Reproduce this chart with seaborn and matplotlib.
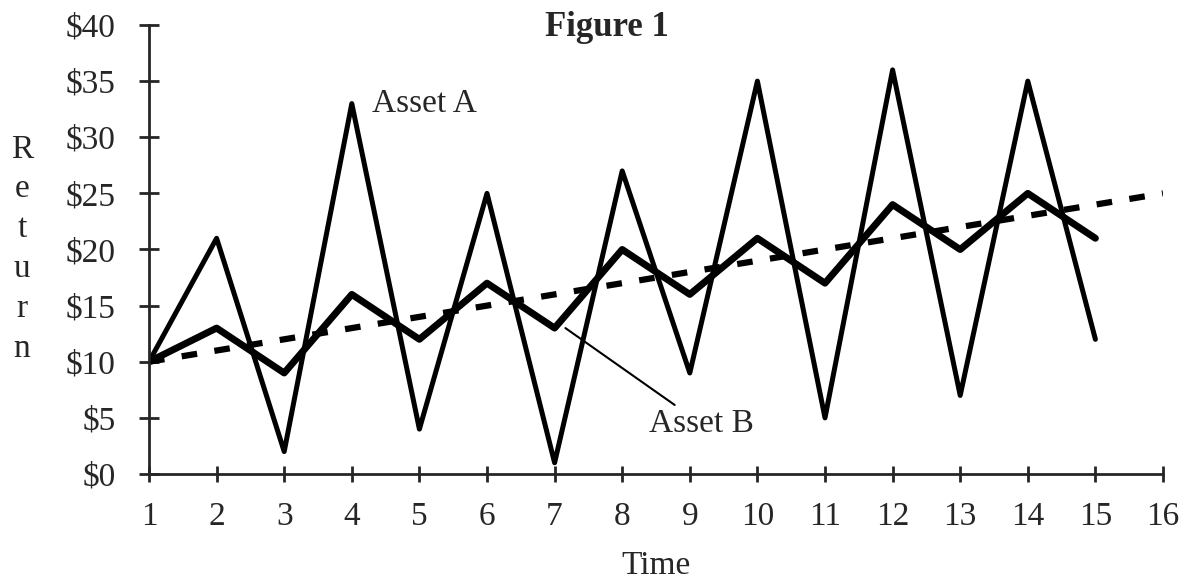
import numpy as np
import pandas as pd
import matplotlib
matplotlib.use("Agg")
import matplotlib.pyplot as plt
import seaborn as sns

time = list(range(1, 16))
asset_a = [10, 21, 2, 33, 4, 25, 1, 27, 9, 35, 5, 36, 7, 35, 12]
asset_b = [10, 13, 9, 16, 12, 17, 13, 20, 16, 21, 17, 24, 20, 25, 21]
trend_time = [1, 16]
trend_vals = [10, 25]
y_ticks = [0, 5, 10, 15, 20, 25, 30, 35, 40]
x_ticks = list(range(1, 17))

sns.set_style("ticks")
plt.rcParams['font.family'] = ['Liberation Serif', 'DejaVu Serif']

FS = 24

fig = plt.figure(figsize=(11.86, 5.83), dpi=100)
ax = fig.add_axes([149 / 1186, 1 - 474 / 583, (1163 - 149) / 1186, (474 - 25) / 583])

df_a = pd.DataFrame({"Time": time, "Return": asset_a})
df_b = pd.DataFrame({"Time": time, "Return": asset_b})
df_t = pd.DataFrame({"Time": trend_time, "Return": trend_vals})

sns.lineplot(data=df_t, x="Time", y="Return", ax=ax, color="black", lw=4.5,
             linestyle=(0, (2.5, 2.8)))
sns.lineplot(data=df_a, x="Time", y="Return", ax=ax, color="black", lw=3.6)
sns.lineplot(data=df_b, x="Time", y="Return", ax=ax, color="black", lw=5)

ax.set_xlim(1, 16)
ax.set_ylim(0, 40)
ax.set_xticks(x_ticks)
ax.set_yticks(y_ticks)
ax.set_yticklabels([f"${v}" for v in y_ticks])
ax.tick_params(axis='y', direction='inout', length=14, width=2, labelsize=FS, pad=17)
ax.tick_params(axis='x', direction='inout', length=12, width=2, labelsize=FS, pad=14)
for s in ["top", "right"]:
    ax.spines[s].set_visible(False)
for s in ["left", "bottom"]:
    ax.spines[s].set_linewidth(2)

ax.set_xlabel("Time", fontsize=FS, labelpad=13)
ax.set_ylabel("")
fig.text(22 / 1186, 1 - 249 / 583, "R\ne\nt\nu\nr\nn", fontsize=FS, ha='center',
         va='center', linespacing=1.4)
fig.text(607 / 1186, 1 - 27 / 583, "Figure 1", fontsize=25, fontweight='bold',
         ha='center', va='center')

ax.text(4.30, 33.0, "Asset A", fontsize=FS, va='center', ha='left')
ax.annotate("Asset B", xy=(7.16, 13.0), xytext=(8.39, 4.5), fontsize=FS,
            va='center', ha='left',
            arrowprops=dict(arrowstyle='-', color='black', lw=1.5,
                            shrinkA=0, shrinkB=0))

fig.savefig("out.png", dpi=100)
